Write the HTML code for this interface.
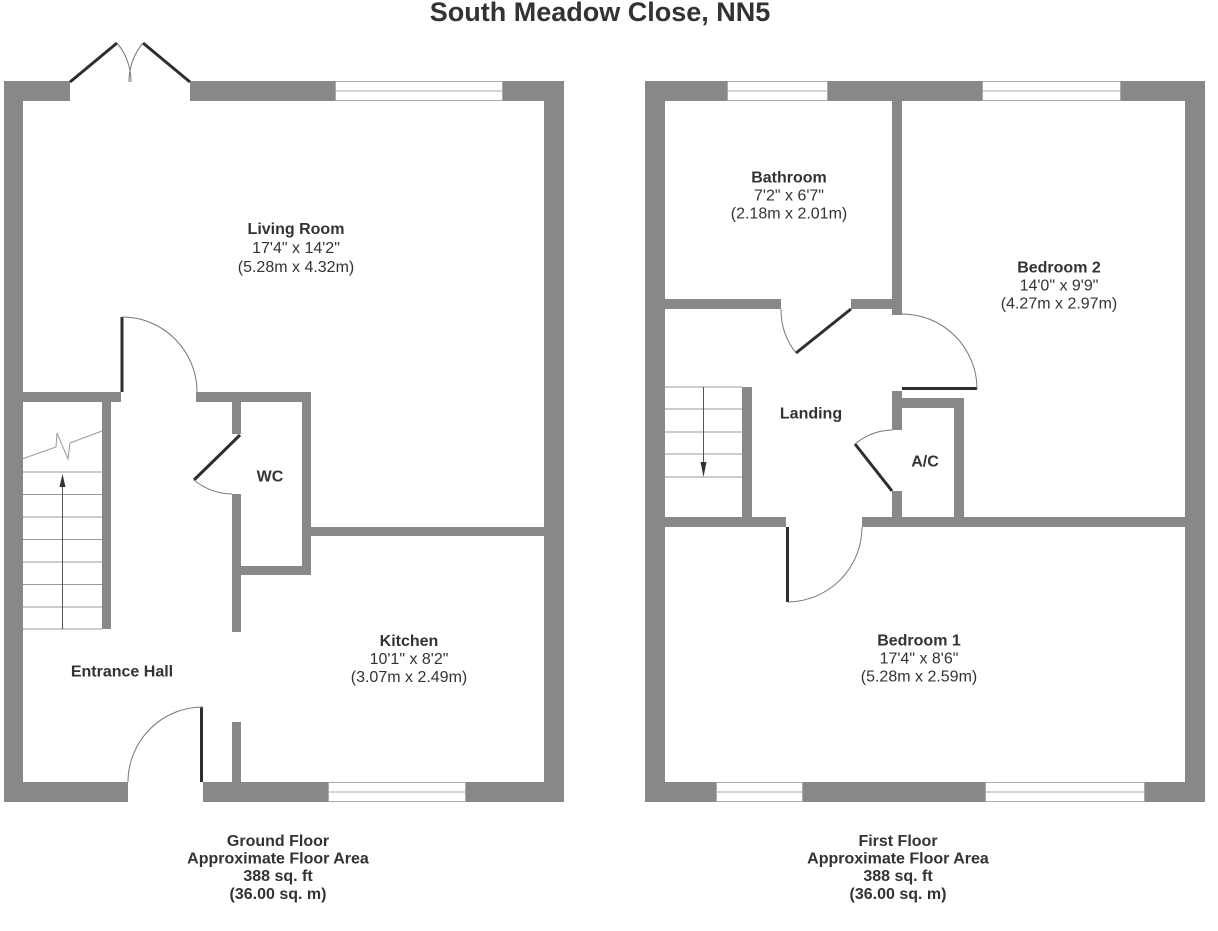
<!DOCTYPE html>
<html>
<head>
<meta charset="utf-8">
<style>
html,body{margin:0;padding:0;background:#fff;}
svg{display:block;}
text{font-family:"Liberation Sans",Arial,sans-serif;fill:#333;}
.b{font-weight:bold;font-size:16px;}
.r{font-size:16px;}
.w{fill:#888;}
.leaf{stroke:#2e2e2e;stroke-width:3;fill:none;}
.arc{stroke:#777;stroke-width:1;fill:none;}
.tr{stroke:#9a9a9a;stroke-width:1;fill:none;}
.win{fill:#fff;stroke:#aaa;stroke-width:1;}
</style>
</head>
<body>
<svg width="1218" height="931" viewBox="0 0 1218 931" xmlns="http://www.w3.org/2000/svg">
<rect width="1218" height="931" fill="#fff"/>
<text x="600" y="21" text-anchor="middle" style="font-weight:bold;font-size:27px;">South Meadow Close, NN5</text>

<!-- ================= GROUND FLOOR ================= -->
<rect class="w" x="4" y="81" width="19" height="721"/>
<rect class="w" x="544" y="81" width="20" height="721"/>
<rect class="w" x="4" y="81" width="66" height="20"/>
<rect class="w" x="190" y="81" width="145" height="20"/>
<rect class="w" x="503" y="81" width="61" height="20"/>
<rect class="w" x="4" y="782" width="124" height="20"/>
<rect class="w" x="203" y="782" width="125" height="20"/>
<rect class="w" x="466" y="782" width="98" height="20"/>
<rect class="win" x="335.5" y="81.5" width="167" height="19"/>
<line x1="335" y1="91" x2="503" y2="91" stroke="#aaa" stroke-width="1"/>
<rect class="win" x="328.5" y="782.5" width="137" height="19"/>
<line x1="328" y1="792" x2="466" y2="792" stroke="#aaa" stroke-width="1"/>
<line class="leaf" x1="70" y1="82" x2="117" y2="43"/>
<line class="leaf" x1="190" y1="82" x2="143" y2="43"/>
<path class="arc" d="M117 43 A61 61 0 0 1 131 82"/>
<path class="arc" d="M143 43 A61 61 0 0 0 129 82"/>
<rect class="w" x="23" y="392" width="98" height="10"/>
<rect class="w" x="196" y="392" width="115" height="10"/>
<line class="leaf" x1="122" y1="317" x2="122" y2="392"/>
<path class="arc" d="M122 317 A75 75 0 0 1 197 392"/>
<rect class="w" x="102" y="402" width="9" height="227"/>
<line class="tr" x1="23" y1="472" x2="102" y2="472"/>
<line class="tr" x1="23" y1="494.5" x2="102" y2="494.5"/>
<line class="tr" x1="23" y1="517" x2="102" y2="517"/>
<line class="tr" x1="23" y1="539.5" x2="102" y2="539.5"/>
<line class="tr" x1="23" y1="562" x2="102" y2="562"/>
<line class="tr" x1="23" y1="584.5" x2="102" y2="584.5"/>
<line class="tr" x1="23" y1="607" x2="102" y2="607"/>
<line class="tr" x1="23" y1="629" x2="102" y2="629"/>
<polyline class="tr" stroke="#777" points="22,459 56,447 57,433 68,459 70,443 102,431"/>
<line x1="62.5" y1="629" x2="62.5" y2="484" stroke="#555" stroke-width="1"/>
<polygon points="62.5,474 59.5,487 65.5,487" fill="#333"/>
<rect class="w" x="232" y="402" width="9" height="32"/>
<rect class="w" x="232" y="494" width="9" height="138"/>
<rect class="w" x="241" y="566" width="70" height="9"/>
<rect class="w" x="302" y="392" width="9" height="183"/>
<line class="leaf" x1="240" y1="435" x2="194" y2="480"/>
<path class="arc" d="M194 480 A62 62 0 0 0 232 494"/>
<rect class="w" x="311" y="527" width="233" height="9"/>
<rect class="w" x="232" y="722" width="9" height="60"/>
<line class="leaf" x1="201.5" y1="707" x2="201.5" y2="782"/>
<path class="arc" d="M203 707 A75 75 0 0 0 128 782"/>

<text class="b" x="296" y="234" text-anchor="middle">Living Room</text>
<text class="r" x="296" y="253" text-anchor="middle">17'4" x 14'2"</text>
<text class="r" x="296" y="272" text-anchor="middle">(5.28m x 4.32m)</text>
<text class="b" x="270" y="481.5" text-anchor="middle">WC</text>
<text class="b" x="122" y="676.5" text-anchor="middle">Entrance Hall</text>
<text class="b" x="409" y="646" text-anchor="middle">Kitchen</text>
<text class="r" x="409" y="664" text-anchor="middle">10'1" x 8'2"</text>
<text class="r" x="409" y="682" text-anchor="middle">(3.07m x 2.49m)</text>

<text class="b" x="278" y="846" text-anchor="middle">Ground Floor</text>
<text class="b" x="278" y="863.5" text-anchor="middle">Approximate Floor Area</text>
<text class="b" x="278" y="881" text-anchor="middle">388 sq. ft</text>
<text class="b" x="278" y="899" text-anchor="middle">(36.00 sq. m)</text>

<!-- ================= FIRST FLOOR ================= -->
<rect class="w" x="645" y="81" width="20" height="721"/>
<rect class="w" x="1185" y="81" width="20" height="721"/>
<rect class="w" x="645" y="81" width="82" height="20"/>
<rect class="w" x="828" y="81" width="154" height="20"/>
<rect class="w" x="1121" y="81" width="84" height="20"/>
<rect class="w" x="645" y="782" width="71" height="20"/>
<rect class="w" x="803" y="782" width="182" height="20"/>
<rect class="w" x="1145" y="782" width="60" height="20"/>
<rect class="win" x="727.5" y="81.5" width="100" height="19"/>
<line x1="727" y1="91" x2="828" y2="91" stroke="#aaa" stroke-width="1"/>
<rect class="win" x="982.5" y="81.5" width="138" height="19"/>
<line x1="982" y1="91" x2="1121" y2="91" stroke="#aaa" stroke-width="1"/>
<rect class="win" x="716.5" y="782.5" width="86" height="19"/>
<line x1="716" y1="792" x2="803" y2="792" stroke="#aaa" stroke-width="1"/>
<rect class="win" x="985.5" y="782.5" width="159" height="19"/>
<line x1="985" y1="792" x2="1145" y2="792" stroke="#aaa" stroke-width="1"/>
<rect class="w" x="892" y="101" width="10" height="214"/>
<rect class="w" x="665" y="299" width="116" height="10"/>
<rect class="w" x="851" y="299" width="41" height="10"/>
<line class="leaf" x1="851" y1="309" x2="796" y2="353"/>
<path class="arc" d="M781 309 A70 70 0 0 0 796 353"/>
<line class="leaf" x1="902" y1="388.5" x2="977" y2="388.5"/>
<path class="arc" d="M902 314 A75 75 0 0 1 977 389"/>
<rect class="w" x="892" y="391" width="10" height="39"/>
<rect class="w" x="892" y="491" width="10" height="36"/>
<rect class="w" x="902" y="398" width="62" height="10"/>
<rect class="w" x="954" y="398" width="10" height="120"/>
<line class="leaf" x1="892" y1="491" x2="855" y2="444"/>
<path class="arc" d="M855 444 A60 60 0 0 1 892 430"/>
<rect class="w" x="665" y="517" width="121" height="10"/>
<rect class="w" x="862" y="517" width="323" height="10"/>
<line class="leaf" x1="787.5" y1="527" x2="787.5" y2="602"/>
<path class="arc" d="M788 602 A75 75 0 0 0 862 527"/>
<rect class="w" x="742" y="387" width="10" height="130"/>
<line class="tr" x1="665" y1="387" x2="742" y2="387"/>
<line class="tr" x1="665" y1="409" x2="742" y2="409"/>
<line class="tr" x1="665" y1="432" x2="742" y2="432"/>
<line class="tr" x1="665" y1="454" x2="742" y2="454"/>
<line class="tr" x1="665" y1="477" x2="742" y2="477"/>
<line x1="703.5" y1="387" x2="703.5" y2="464" stroke="#555" stroke-width="1"/>
<polygon points="703.5,477 700.5,462 706.5,462" fill="#333"/>

<text class="b" x="789" y="182.5" text-anchor="middle">Bathroom</text>
<text class="r" x="789" y="200.5" text-anchor="middle">7'2" x 6'7"</text>
<text class="r" x="789" y="218.5" text-anchor="middle">(2.18m x 2.01m)</text>
<text class="b" x="1059" y="272.5" text-anchor="middle">Bedroom 2</text>
<text class="r" x="1059" y="290.5" text-anchor="middle">14'0" x 9'9"</text>
<text class="r" x="1059" y="308.5" text-anchor="middle">(4.27m x 2.97m)</text>
<text class="b" x="811" y="418.5" text-anchor="middle">Landing</text>
<text class="b" x="925" y="466.5" text-anchor="middle">A/C</text>
<text class="b" x="919" y="645.5" text-anchor="middle">Bedroom 1</text>
<text class="r" x="919" y="663.5" text-anchor="middle">17'4" x 8'6"</text>
<text class="r" x="919" y="681.5" text-anchor="middle">(5.28m x 2.59m)</text>

<text class="b" x="898" y="846" text-anchor="middle">First Floor</text>
<text class="b" x="898" y="863.5" text-anchor="middle">Approximate Floor Area</text>
<text class="b" x="898" y="881" text-anchor="middle">388 sq. ft</text>
<text class="b" x="898" y="899" text-anchor="middle">(36.00 sq. m)</text>
</svg>
</body>
</html>
